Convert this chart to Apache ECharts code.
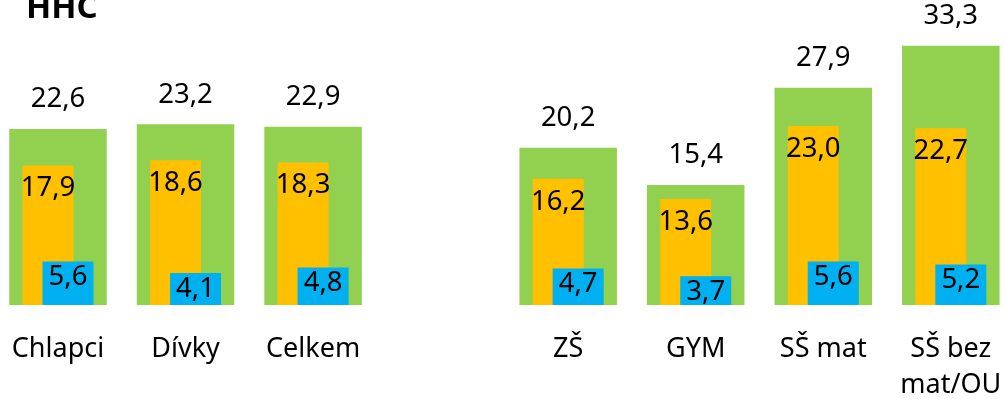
<!DOCTYPE html>
<html>
<head>
<meta charset="utf-8">
<script src="https://cdn.jsdelivr.net/npm/echarts@6/dist/echarts.min.js"></script>
<style>
  html, body { margin: 0; padding: 0; background: #fff; }
  #chart { width: 1005px; height: 399px; }
</style>
</head>
<body>
<div id="chart"></div>
<script>
// Categories: three overall groups, a spacer, then four school types
const categories = ['Chlapci', 'Dívky', 'Celkem', '', 'ZŠ', 'GYM', 'SŠ mat', 'SŠ bez\nmat/OU'];

// Prevalence values (%), three nested periods
const everValues  = [22.6, 23.2, 22.9, null, 20.2, 15.4, 27.9, 33.3];
const yearValues  = [17.9, 18.6, 18.3, null, 16.2, 13.6, 23.0, 22.7];
const monthValues = [5.6, 4.1, 4.8, null, 4.7, 3.7, 5.6, 5.2];

const FONT = 'Noto Sans';
const fmt = p => p.value.toFixed(1).replace('.', ',');
const labelStyle = { fontFamily: FONT, fontSize: 27.5, color: '#000', formatter: fmt };

const chart = echarts.init(document.getElementById('chart'));
chart.setOption({
  animation: false,
  title: {
    text: 'HHC',
    left: 26,
    top: -8,
    padding: 0,
    textStyle: { fontFamily: FONT, fontSize: 33, fontWeight: 'bold', color: '#000' }
  },
  grid: {
    left: -5.77, right: -9.57, top: 32.45, bottom: 94,
    containLabel: false,
    outerBoundsMode: 'none'
  },
  xAxis: [
    {
      type: 'category',
      data: categories,
      axisLine: { show: false },
      axisTick: { show: false },
      axisLabel: {
        interval: 0,
        margin: 26,
        fontFamily: FONT,
        fontSize: 27,
        lineHeight: 36,
        color: '#000'
      }
    },
    {
      type: 'category',
      data: categories,
      show: false
    }
  ],
  yAxis: { type: 'value', min: 0, max: 35, show: false },
  series: [
    {
      name: 'ever',
      type: 'bar',
      xAxisIndex: 1,
      data: everValues,
      barWidth: 97.5,
      itemStyle: { color: '#92D050' },
      label: Object.assign({ show: true, position: 'top', distance: 15.5 }, labelStyle)
    },
    {
      name: 'year',
      type: 'bar',
      xAxisIndex: 0,
      data: yearValues,
      barWidth: 51,
      barGap: '-60.8%',
      itemStyle: { color: '#FFC000' },
      label: Object.assign({ show: true, position: 'insideTop', distance: 9 }, labelStyle)
    },
    {
      name: 'month',
      type: 'bar',
      xAxisIndex: 0,
      data: monthValues,
      barWidth: 51,
      barGap: '-60.8%',
      itemStyle: { color: '#00B0F0' },
      label: Object.assign({ show: true, position: 'insideTop', distance: 2 }, labelStyle)
    }
  ]
});
</script>
</body>
</html>
